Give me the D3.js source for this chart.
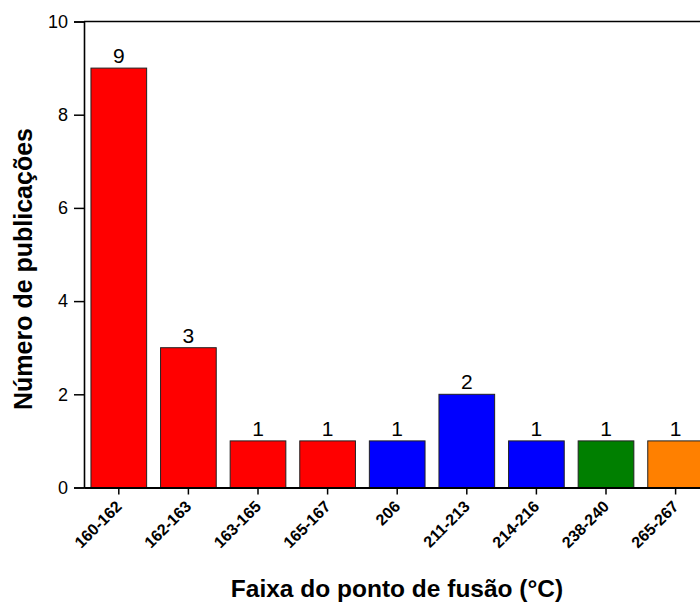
<!DOCTYPE html>
<html><head><meta charset="utf-8">
<script src="https://cdn.jsdelivr.net/npm/d3@7"></script>
<style>body{margin:0;background:#fff}svg{display:block}text{font-family:Arial,"Liberation Sans",sans-serif}</style>
</head><body><svg id="c" width="700" height="605"></svg>
<script>
const categories = ["160-162","162-163","163-165","165-167","206","211-213","214-216","238-240","265-267"];
const values = [9,3,1,1,1,2,1,1,1];
const colors = ["#ff0000","#ff0000","#ff0000","#ff0000","#0000ff","#0000ff","#0000ff","#007f00","#ff8000"];
const yTicks = [0,2,4,6,8,10];

(function(){
const svg = d3.select("#c");
const mLeft = 84, mTop = 21.5, mBottom = 487.5;
const step = 69.6;
const mRight = mLeft + step * categories.length;
const x = d3.scaleBand().domain(categories).range([mLeft, mRight]).paddingInner(0.2).paddingOuter(0.1);
const y = d3.scaleLinear().domain([0,10]).range([mBottom, mTop]);

svg.selectAll("rect.bar").data(categories).enter().append("rect")
  .attr("x", d => x(d)).attr("width", x.bandwidth())
  .attr("y", (d,i) => y(values[i])).attr("height", (d,i) => y(0) - y(values[i]))
  .attr("fill", (d,i) => colors[i]).attr("stroke", "#222").attr("stroke-width", 1);

svg.selectAll("text.val").data(categories).enter().append("text")
  .attr("x", d => x(d) + x.bandwidth()/2).attr("y", (d,i) => y(values[i]) - 5)
  .attr("text-anchor","middle").attr("font-size", 21).text((d,i) => values[i]);

svg.append("line").attr("x1", mLeft).attr("x2", mRight).attr("y1", mTop).attr("y2", mTop)
  .attr("stroke","#000").attr("stroke-width",1.5);

const ya = svg.append("g").attr("transform", `translate(${mLeft},0)`)
  .call(d3.axisLeft(y).tickValues(yTicks).tickSize(10).tickPadding(6));
ya.select(".domain").attr("stroke-width",1.6);
ya.selectAll(".tick line").attr("stroke-width",1.5);
ya.selectAll("text").attr("font-size",18).attr("font-family","Arial,'Liberation Sans',sans-serif").attr("fill","#000");

const xa = svg.append("g").attr("transform", `translate(0,${mBottom})`)
  .call(d3.axisBottom(x).tickSize(7).tickSizeOuter(0));
xa.select(".domain").attr("stroke-width",1.8);
xa.selectAll(".tick line").attr("stroke-width",1.5);
xa.selectAll("text").attr("font-size",16).attr("font-weight","bold")
  .attr("font-family","Arial,'Liberation Sans',sans-serif").attr("fill","#000")
  .attr("text-anchor","end").attr("dy",null).attr("y",null)
  .attr("transform","translate(4,20) rotate(-45)");

svg.append("text").attr("x", 397).attr("y", 597).attr("text-anchor","middle")
  .attr("font-size",24.5).attr("font-weight","bold").text("Faixa do ponto de fusão (°C)");
svg.append("text").attr("transform","translate(32,269) rotate(-90)").attr("text-anchor","middle")
  .attr("font-size",25).attr("font-weight","bold").text("Número de publicações");
})();
</script></body></html>
